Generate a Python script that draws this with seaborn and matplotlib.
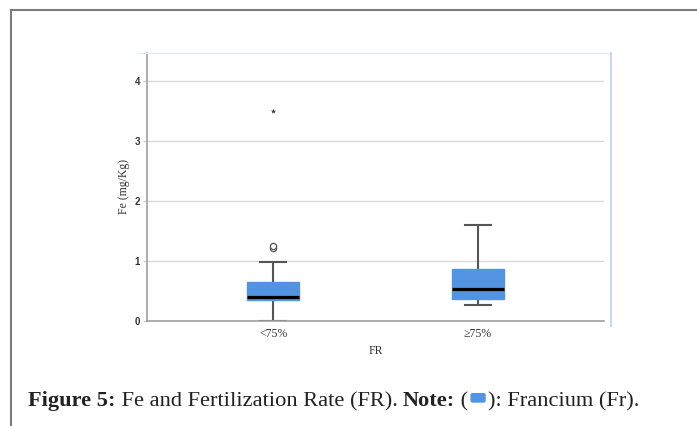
import numpy as np
import pandas as pd
import matplotlib
matplotlib.use("Agg")
import matplotlib.pyplot as plt
import seaborn as sns
from matplotlib.lines import Line2D
from matplotlib.patches import FancyBboxPatch
from matplotlib.offsetbox import TextArea, DrawingArea, HPacker, AnchoredOffsetbox

# values (Fe, mg/Kg)
categories = ['<75%', '≥75%']
fe_below_75 = [0.00, 0.12, 0.22, 0.28, 0.32, 0.35, 0.36, 0.37, 0.38, 0.39, 0.40,
               0.44, 0.50, 0.56, 0.61, 0.65, 0.75, 0.98, 1.22, 1.25, 3.50]
fe_above_75 = [0.27, 0.30, 0.34, 0.37, 0.42, 0.48, 0.53, 0.62, 0.74, 0.87,
               1.02, 1.25, 1.60]
y_ticks = [0, 1, 2, 3, 4]

box_blue = '#5294e2'
grey = '#555555'

df = pd.concat([
    pd.DataFrame({'FR': categories[0], 'Fe': fe_below_75}),
    pd.DataFrame({'FR': categories[1], 'Fe': fe_above_75}),
], ignore_index=True)

# SPSS style: circles for outliers (>1.5 IQR), stars for extremes (>3 IQR)
def outlier_kind(g):
    q1, q3 = np.percentile(g, [25, 75])
    iqr = q3 - q1
    dist = np.maximum(q1 - g, g - q3)
    return np.where(dist > 3 * iqr, 'extreme', np.where(dist > 1.5 * iqr, 'outlier', 'normal'))

df['kind'] = df.groupby('FR')['Fe'].transform(lambda s: outlier_kind(s.values))

fig = plt.figure(figsize=(6.97, 4.26), dpi=100)
ax = fig.add_axes([147 / 697, 105 / 426, 457 / 697, 268 / 426])

sns.boxplot(data=df, x='FR', y='Fe', order=categories, width=0.25, whis=1.5,
            showfliers=False, color=box_blue, saturation=1, ax=ax,
            boxprops=dict(facecolor=box_blue, edgecolor=box_blue, linewidth=1, zorder=3),
            whiskerprops=dict(color=grey, linewidth=1.5, zorder=2),
            capprops=dict(color=grey, linewidth=1.5, zorder=2),
            medianprops=dict(color='black', linewidth=2.3, zorder=4))

sns.stripplot(data=df[df['kind'] == 'outlier'], x='FR', y='Fe', order=categories,
              jitter=False, marker='o', size=4.5, color='white', edgecolor=grey,
              linewidth=0.9, ax=ax, zorder=5)
sns.stripplot(data=df[df['kind'] == 'extreme'], x='FR', y='Fe', order=categories,
              jitter=False, marker='*', size=4, color='#333333', ax=ax, zorder=5)

ax.set_xlim(-0.615, 1.615)
ax.set_ylim(0, 4.47)
ax.set_yticks(y_ticks)
ax.set_yticklabels([str(t) for t in y_ticks], fontfamily='Liberation Sans',
                   fontweight='bold', fontsize=7, color='#333333')
ax.set_xticks(range(len(categories)))
ax.set_xticklabels(categories, fontfamily='Liberation Serif', fontsize=8.5, color='#333333')
ax.tick_params(axis='y', length=3, color='#c8c8c8', pad=2)
ax.tick_params(axis='x', length=0, pad=5)
ax.set_xlabel('FR', fontfamily='Liberation Serif', fontsize=8.5, color='#333333', labelpad=4)
ax.set_ylabel('Fe (mg/Kg)', fontfamily='Liberation Serif', fontsize=8.5, color='#333333', labelpad=3)
ax.yaxis.grid(True, color='#d9d9d9', linewidth=1, zorder=0)
ax.set_axisbelow(True)
for s in ['top', 'right']:
    ax.spines[s].set_visible(False)
for s in ['left', 'bottom']:
    ax.spines[s].set_color('#a0a0a0')
    ax.spines[s].set_linewidth(1.2)

# light blue chart-area frame (top and right) and outer page frame
W, H = 697, 426
fig.add_artist(Line2D([138 / W, 611 / W], [1 - 53 / H, 1 - 53 / H], color='#e3ebf7', lw=1))
fig.add_artist(Line2D([611 / W, 611 / W], [1 - 53 / H, 1 - 326 / H], color='#c9d8f2', lw=1.5))
fig.add_artist(Line2D([11 / W, 1.0], [1 - 10 / H, 1 - 10 / H], color='#7a7a7a', lw=1.5))
fig.add_artist(Line2D([11 / W, 11 / W], [1 - 10 / H, 0], color='#7a7a7a', lw=1.5))

# caption
cap = dict(fontfamily='Liberation Serif', fontsize=16.1, color='#222222')
bold = dict(cap, fontweight='bold')
swatch = DrawingArea(14, 11, 0, 0)
swatch.add_artist(FancyBboxPatch((1.5, 2.5), 11, 7, boxstyle='round,pad=0,rounding_size=1.5',
                                 facecolor=box_blue, edgecolor='none'))
parts = [TextArea('Figure 5:', textprops=bold),
         TextArea(' Fe and Fertilization Rate (FR). ', textprops=cap),
         TextArea('Note:', textprops=bold),
         TextArea(' (', textprops=cap),
         swatch,
         TextArea('): Francium (Fr).', textprops=cap)]
pack = HPacker(children=parts, align='baseline', pad=0, sep=0)
anch = AnchoredOffsetbox(loc='center left', child=pack, frameon=False, pad=0, borderpad=0,
                         bbox_to_anchor=(28 / W, 1 - 401 / H), bbox_transform=fig.transFigure)
fig.add_artist(anch)

fig.savefig('out.png', dpi=100)
